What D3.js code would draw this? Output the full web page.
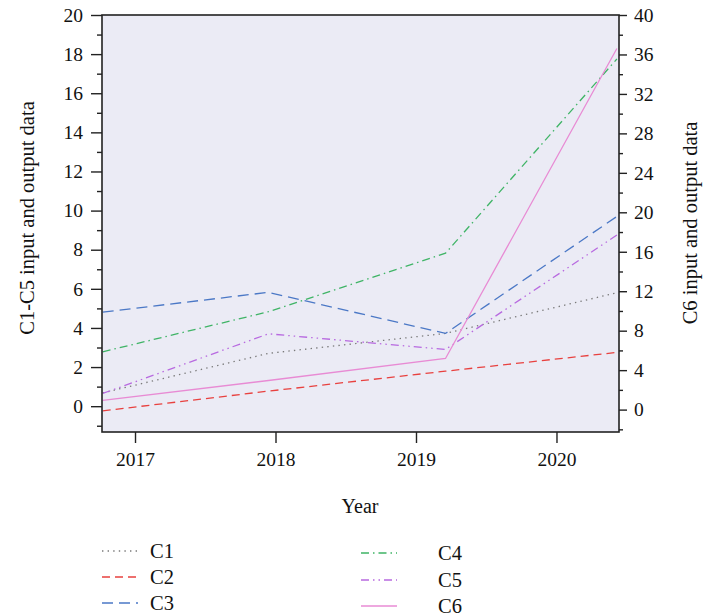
<!DOCTYPE html>
<html>
<head>
<meta charset="utf-8">
<script src="https://cdn.jsdelivr.net/npm/d3@7"></script>
<style>
  html, body { margin: 0; padding: 0; background: #fff; }
  svg { display: block; }
  text { font-family: "Liberation Serif", "DejaVu Serif", serif; fill: #111; }
</style>
</head>
<body>
<div id="chart"></div>
<script>
// Observation years (sample positions along the time axis)
const years = [2016.77, 2017.95, 2019.21, 2020.43];
const yearTicks = [2017, 2018, 2019, 2020];

// C1-C5 are read against the left axis, C6 against the right axis
const seriesNames = ["C1", "C2", "C3", "C4", "C5", "C6"];
const c1 = [0.68, 2.70, 3.72, 5.80];
const c2 = [-0.24, 0.77, 1.79, 2.75];
const c3 = [4.81, 5.82, 3.72, 9.70];
const c4 = [2.78, 4.83, 7.82, 17.75];
const c5 = [0.65, 3.70, 2.90, 8.75];
const c6 = [0.94, 2.95, 5.18, 36.6];

const leftTicks = [0, 2, 4, 6, 8, 10, 12, 14, 16, 18, 20];
const rightTicks = [0, 4, 8, 12, 16, 20, 24, 28, 32, 36, 40];

const W = 703, H = 616;
const plot = { left: 102, right: 619, top: 15, bottom: 432 };

const svg = d3.select("#chart").append("svg")
  .attr("width", W).attr("height", H);

const x = d3.scaleLinear().domain([2016.765, 2020.445]).range([plot.left, plot.right]);
const yL = d3.scaleLinear().domain([-1.32, 20]).range([plot.bottom, plot.top]);
const yR = d3.scaleLinear().domain([-2.27, 40]).range([plot.bottom, plot.top]);

// Plot background
svg.append("rect")
  .attr("x", plot.left).attr("y", plot.top)
  .attr("width", plot.right - plot.left).attr("height", plot.bottom - plot.top)
  .attr("fill", "#ebebf5");

const styles = {
  C1: { color: "#7a7a7a", dash: "1.4,4.2", axis: "L", data: c1 },
  C2: { color: "#e8413f", dash: "8,5", axis: "L", data: c2 },
  C3: { color: "#4b78c6", dash: "11,6", axis: "L", data: c3 },
  C4: { color: "#3fb466", dash: "8,4,1.5,4", axis: "L", data: c4 },
  C5: { color: "#b86ae0", dash: "8,4,1.5,4,1.5,4", axis: "L", data: c5 },
  C6: { color: "#e88bd4", dash: null, axis: "R", data: c6 }
};

svg.append("clipPath").attr("id", "plotclip")
  .append("rect")
  .attr("x", plot.left).attr("y", plot.top)
  .attr("width", plot.right - plot.left).attr("height", plot.bottom - plot.top);

const linesG = svg.append("g").attr("clip-path", "url(#plotclip)");
seriesNames.forEach(name => {
  const s = styles[name];
  const yScale = s.axis === "L" ? yL : yR;
  const line = d3.line().x((d, i) => x(years[i])).y(d => yScale(d));
  linesG.append("path")
    .datum(s.data)
    .attr("d", line)
    .attr("fill", "none")
    .attr("stroke", s.color)
    .attr("stroke-width", 1.3)
    .attr("stroke-dasharray", s.dash);
});

// Frame
svg.append("rect")
  .attr("x", plot.left).attr("y", plot.top)
  .attr("width", plot.right - plot.left).attr("height", plot.bottom - plot.top)
  .attr("fill", "none").attr("stroke", "#222").attr("stroke-width", 1.6);

// Left axis: labelled ticks every 2 plus unlabelled minor ticks
const leftAxis = d3.axisLeft(yL).tickValues(leftTicks).tickSize(11).tickPadding(8).tickFormat(d3.format("d"));
svg.append("g").attr("transform", `translate(${plot.left},0)`).call(leftAxis);
svg.append("g").attr("transform", `translate(${plot.left},0)`)
  .call(d3.axisLeft(yL).tickValues(d3.range(-1, 20, 2)).tickSize(5).tickFormat(""));

const rightAxis = d3.axisRight(yR).tickValues(rightTicks).tickSize(8).tickPadding(7).tickFormat(d3.format("d"));
svg.append("g").attr("transform", `translate(${plot.right},0)`).call(rightAxis);
svg.append("g").attr("transform", `translate(${plot.right},0)`)
  .call(d3.axisRight(yR).tickValues(d3.range(-2, 40, 4)).tickSize(4).tickFormat(""));

const bottomAxis = d3.axisBottom(x).tickValues(yearTicks).tickSize(11).tickPadding(9).tickFormat(d3.format("d"));
svg.append("g").attr("transform", `translate(0,${plot.bottom})`).call(bottomAxis);

svg.selectAll(".domain").remove();
svg.selectAll(".tick line").attr("stroke", "#222").attr("stroke-width", 1.4);
svg.selectAll(".tick text").style("font-family", "'Liberation Serif', serif").style("font-size", "19.5px").attr("fill", "#111");

// Axis titles
svg.append("text")
  .attr("transform", "translate(34,218) rotate(-90)")
  .attr("text-anchor", "middle")
  .style("font-size", "20.5px")
  .text("C1-C5 input and output data");

svg.append("text")
  .attr("transform", "translate(697,223) rotate(-90)")
  .attr("text-anchor", "middle")
  .style("font-size", "20.5px")
  .text("C6 input and output data");

svg.append("text")
  .attr("x", 360).attr("y", 513)
  .attr("text-anchor", "middle")
  .style("font-size", "20px")
  .text("Year");

// Legend in two columns
const legendPos = [
  { sx: 102, lx: 150, y: 551 },
  { sx: 102, lx: 150, y: 577 },
  { sx: 102, lx: 150, y: 603 },
  { sx: 361, lx: 438, y: 553 },
  { sx: 361, lx: 438, y: 580 },
  { sx: 361, lx: 438, y: 606 }
];
seriesNames.forEach((name, i) => {
  const s = styles[name];
  const p = legendPos[i];
  svg.append("line")
    .attr("x1", p.sx).attr("x2", p.sx + 36)
    .attr("y1", p.y).attr("y2", p.y)
    .attr("stroke", s.color).attr("stroke-width", 1.3)
    .attr("stroke-dasharray", s.dash);
  svg.append("text")
    .attr("x", p.lx).attr("y", p.y + 7)
    .style("font-size", "20.5px")
    .text(name);
});
</script>
</body>
</html>
